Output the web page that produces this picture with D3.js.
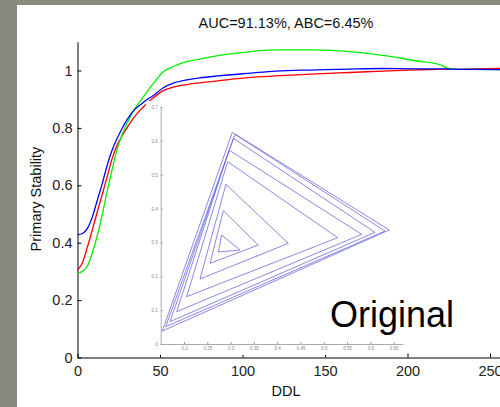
<!DOCTYPE html>
<html>
<head>
<meta charset="utf-8">
<script src="https://cdn.jsdelivr.net/npm/d3@7"></script>
<style>
html, body { margin: 0; padding: 0; background: #898a7d; }
svg { display: block; font-family: "Liberation Sans", Arial, sans-serif; }
</style>
</head>
<body>
<svg id="chart"></svg>
<script>
const width = 500;
const height = 407;

// main curves
const ddl = [0, 3, 6, 9, 12, 15, 18, 21, 24, 27, 30, 34, 38, 42, 46, 52, 58, 66, 74, 85, 105, 120, 145, 165, 185, 205, 220, 226, 240, 260];
const blueVals = [0.428, 0.432, 0.450, 0.490, 0.548, 0.606, 0.670, 0.723, 0.763, 0.798, 0.828, 0.860, 0.880, 0.898, 0.913, 0.940, 0.956, 0.967, 0.974, 0.981, 0.991, 0.998, 1.002, 1.005, 1.007, 1.006, 1.006, 1.005, 1.004, 1.003];
const redVals = [0.305, 0.330, 0.385, 0.445, 0.508, 0.568, 0.630, 0.693, 0.740, 0.772, 0.800, 0.835, 0.862, 0.885, 0.905, 0.930, 0.942, 0.951, 0.957, 0.964, 0.976, 0.981, 0.988, 0.993, 0.998, 1.002, 1.004, 1.004, 1.006, 1.008];
const greenVals = [0.294, 0.300, 0.318, 0.365, 0.425, 0.498, 0.580, 0.655, 0.725, 0.775, 0.815, 0.860, 0.893, 0.925, 0.955, 0.996, 1.014, 1.031, 1.040, 1.052, 1.066, 1.072, 1.072, 1.066, 1.053, 1.034, 1.020, 1.006, 1.004, 1.003];

const xTicks = [0, 50, 100, 150, 200, 250];
const yTicks = [0, 0.2, 0.4, 0.6, 0.8, 1];

// inset: nested triangles, outer to inner
const leftX = [0.1535, 0.1607, 0.1700, 0.1843, 0.2057, 0.2343, 0.2558, 0.2737];
const leftY = [0.0384, 0.0512, 0.0660, 0.0955, 0.1398, 0.1920, 0.2382, 0.2717];
const topX = [0.3037, 0.3094, 0.3059, 0.2966, 0.2937, 0.2901, 0.2844, 0.2808];
const topY = [0.6251, 0.6192, 0.6074, 0.5730, 0.5385, 0.4716, 0.3938, 0.3219];
const rightX = [0.6406, 0.6313, 0.6099, 0.5813, 0.5298, 0.4239, 0.3595, 0.3202];
const rightY = [0.3367, 0.3337, 0.3298, 0.3239, 0.3140, 0.2973, 0.2924, 0.2776];
const insetXTicks = [0.2, 0.25, 0.3, 0.35, 0.4, 0.45, 0.5, 0.55, 0.6, 0.65];
const insetYTicks = [0, 0.1, 0.2, 0.3, 0.4, 0.5, 0.6, 0.7];

const svg = d3.select('#chart')
    .attr('width', width)
    .attr('height', height);

// white figure area
svg.append('rect')
    .attr('x', 17).attr('y', 5)
    .attr('width', width - 17).attr('height', height - 5)
    .attr('fill', '#fff');

const x = d3.scaleLinear().domain([0, 300]).range([77.5, 77.5 + 495]);
const y = d3.scaleLinear().domain([0, 1.1]).range([357.5, 357.5 - 1.1 * 287]);

const fmt = d => String(+d.toFixed(2));

const xAxis = svg.append('g')
    .attr('transform', `translate(0, ${y(0)})`)
    .call(d3.axisBottom(x).tickValues(xTicks).tickFormat(fmt).tickSizeInner(-4).tickSizeOuter(0).tickPadding(8));

const yAxis = svg.append('g')
    .attr('transform', `translate(${x(0)}, 0)`)
    .call(d3.axisLeft(y).tickValues(yTicks).tickFormat(fmt).tickSizeInner(-4).tickSizeOuter(0).tickPadding(5));

[xAxis, yAxis].forEach(a => {
    a.selectAll('text').style('font-size', '14.5px').attr('fill', '#222').style('font-family', '"Liberation Sans", Arial, sans-serif');
    a.selectAll('line').attr('stroke', '#000');
    a.select('.domain').attr('stroke', '#000');
});

const line = vals => d3.line()
    .x((d, i) => x(ddl[i]))
    .y(d => y(d))
    .curve(d3.curveMonotoneX)(vals);

const series = [
    { vals: redVals, color: '#ff0000' },
    { vals: greenVals, color: '#00f000' },
    { vals: blueVals, color: '#0000ff' }
];

series.forEach(s => {
    svg.append('path')
        .attr('d', line(s.vals))
        .attr('fill', 'none')
        .attr('stroke', s.color)
        .attr('stroke-width', 1.3);
});

// title and labels
svg.append('text')
    .attr('x', 286).attr('y', 28)
    .attr('text-anchor', 'middle')
    .style('font-size', '14.5px')
    .attr('fill', '#111')
    .text('AUC=91.13%, ABC=6.45%');

svg.append('text')
    .attr('x', 286).attr('y', 396)
    .attr('text-anchor', 'middle')
    .style('font-size', '14.5px')
    .attr('fill', '#111')
    .text('DDL');

svg.append('text')
    .attr('transform', 'translate(41, 199) rotate(-90)')
    .attr('text-anchor', 'middle')
    .style('font-size', '14.5px')
    .attr('fill', '#111')
    .text('Primary Stability');

// inset picture
const inset = svg.append('g');
inset.append('rect')
    .attr('x', 146).attr('y', 101)
    .attr('width', 260).attr('height', 254)
    .attr('fill', '#fff');

const ix = d3.scaleLinear().domain([0.15, 0.67]).range([160.7, 160.7 + 0.52 * 466]);
const iy = d3.scaleLinear().domain([0, 0.7]).range([344, 344 - 0.7 * 338.6]);

const ixAxis = inset.append('g')
    .attr('transform', `translate(0, ${iy(0)})`)
    .call(d3.axisBottom(ix).tickValues(insetXTicks).tickFormat(fmt).tickSizeInner(-2).tickSizeOuter(0).tickPadding(3));
const iyAxis = inset.append('g')
    .attr('transform', `translate(${ix(0.15)}, 0)`)
    .call(d3.axisLeft(iy).tickValues(insetYTicks).tickFormat(fmt).tickSizeInner(-2).tickSizeOuter(0).tickPadding(3));

[ixAxis, iyAxis].forEach(a => {
    a.selectAll('text').style('font-size', '4.5px').attr('fill', '#888');
    a.selectAll('line').attr('stroke', '#999');
    a.select('.domain').attr('stroke', '#aaa');
});

inset.selectAll('path.tri')
    .data(topX.map((d, i) => i))
    .enter()
    .append('path')
    .attr('class', 'tri')
    .attr('d', i => `M${ix(leftX[i])},${iy(leftY[i])}L${ix(topX[i])},${iy(topY[i])}L${ix(rightX[i])},${iy(rightY[i])}Z`)
    .attr('fill', 'none')
    .attr('stroke', '#6a6ade')
    .attr('stroke-opacity', 0.8)
    .attr('stroke-width', 1);

svg.append('text')
    .attr('x', 392).attr('y', 327)
    .attr('text-anchor', 'middle')
    .style('font-size', '36px')
    .attr('fill', '#000')
    .text('Original');
</script>
</body>
</html>
